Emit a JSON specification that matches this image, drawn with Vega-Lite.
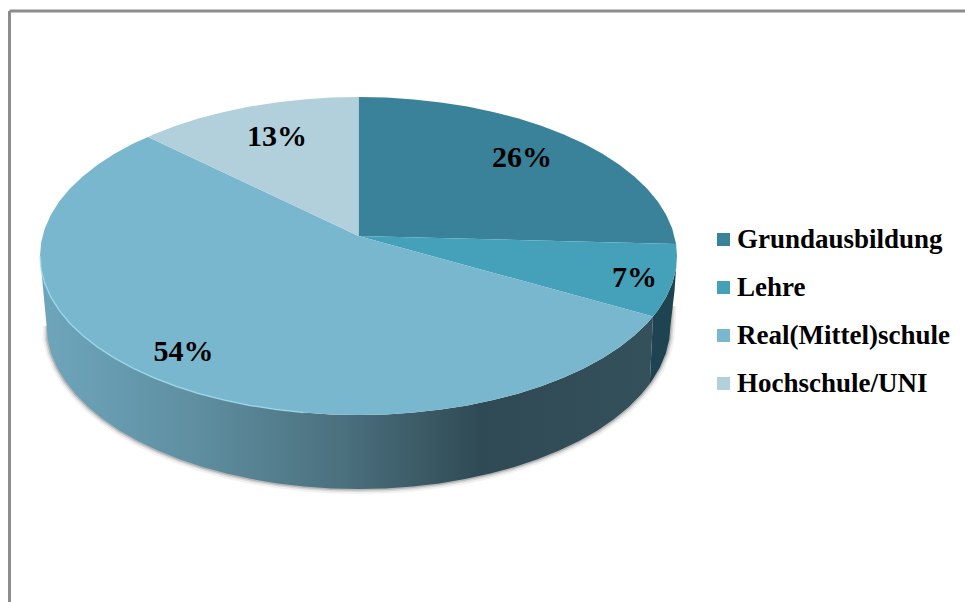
{"$schema":"https://vega.github.io/schema/vega-lite/v6.json","autosize":{"type":"fit","contains":"padding"},"width":965,"height":602,"padding":0,"background":"white","config":{"view":{"stroke":null}},
"datasets":{
"top":[
{"s":"Grundausbildung","x":0,"y":20},{"s":"Grundausbildung","x":0,"y":159},{"s":"Grundausbildung","x":27.8,"y":158.4},{"s":"Grundausbildung","x":55.3,"y":156.6},{"s":"Grundausbildung","x":82.4,"y":153.6},{"s":"Grundausbildung","x":108.9,"y":149.4},{"s":"Grundausbildung","x":134.6,"y":144.1},{"s":"Grundausbildung","x":159.3,"y":137.7},{"s":"Grundausbildung","x":182.7,"y":130.3},{"s":"Grundausbildung","x":204.7,"y":121.8},{"s":"Grundausbildung","x":225.2,"y":112.4},{"s":"Grundausbildung","x":244,"y":102.2},{"s":"Grundausbildung","x":260.9,"y":91.2},{"s":"Grundausbildung","x":275.8,"y":79.5},{"s":"Grundausbildung","x":288.7,"y":67.2},{"s":"Grundausbildung","x":299.3,"y":54.4},{"s":"Grundausbildung","x":307.6,"y":41.2},{"s":"Grundausbildung","x":313.7,"y":27.6},{"s":"Grundausbildung","x":317.6,"y":12},
{"s":"Lehre","x":0,"y":20},{"s":"Lehre","x":317.6,"y":12},{"s":"Lehre","x":318.5,"y":0},{"s":"Lehre","x":317.3,"y":-13.9},{"s":"Lehre","x":313.7,"y":-27.6},{"s":"Lehre","x":307.6,"y":-41.2},{"s":"Lehre","x":299.3,"y":-54.4},{"s":"Lehre","x":294.5,"y":-60.5},
{"s":"Real(Mittel)schule","x":0,"y":20},{"s":"Real(Mittel)schule","x":294.5,"y":-60.5},{"s":"Real(Mittel)schule","x":288.7,"y":-67.2},{"s":"Real(Mittel)schule","x":275.8,"y":-79.5},{"s":"Real(Mittel)schule","x":260.9,"y":-91.2},{"s":"Real(Mittel)schule","x":244,"y":-102.2},{"s":"Real(Mittel)schule","x":225.2,"y":-112.4},{"s":"Real(Mittel)schule","x":204.7,"y":-121.8},{"s":"Real(Mittel)schule","x":182.7,"y":-130.3},{"s":"Real(Mittel)schule","x":159.3,"y":-137.7},{"s":"Real(Mittel)schule","x":134.6,"y":-144.1},{"s":"Real(Mittel)schule","x":108.9,"y":-149.4},{"s":"Real(Mittel)schule","x":82.4,"y":-153.6},{"s":"Real(Mittel)schule","x":55.3,"y":-156.6},{"s":"Real(Mittel)schule","x":27.8,"y":-158.4},{"s":"Real(Mittel)schule","x":0,"y":-159},{"s":"Real(Mittel)schule","x":-27.8,"y":-158.4},{"s":"Real(Mittel)schule","x":-55.3,"y":-156.6},{"s":"Real(Mittel)schule","x":-82.4,"y":-153.6},{"s":"Real(Mittel)schule","x":-108.9,"y":-149.4},{"s":"Real(Mittel)schule","x":-134.6,"y":-144.1},{"s":"Real(Mittel)schule","x":-159.3,"y":-137.7},{"s":"Real(Mittel)schule","x":-182.7,"y":-130.3},{"s":"Real(Mittel)schule","x":-204.7,"y":-121.8},{"s":"Real(Mittel)schule","x":-225.2,"y":-112.4},{"s":"Real(Mittel)schule","x":-244,"y":-102.2},{"s":"Real(Mittel)schule","x":-260.9,"y":-91.2},{"s":"Real(Mittel)schule","x":-275.8,"y":-79.5},{"s":"Real(Mittel)schule","x":-288.7,"y":-67.2},{"s":"Real(Mittel)schule","x":-299.3,"y":-54.4},{"s":"Real(Mittel)schule","x":-307.6,"y":-41.2},{"s":"Real(Mittel)schule","x":-313.7,"y":-27.6},{"s":"Real(Mittel)schule","x":-317.3,"y":-13.9},{"s":"Real(Mittel)schule","x":-318.5,"y":0},{"s":"Real(Mittel)schule","x":-317.3,"y":13.9},{"s":"Real(Mittel)schule","x":-313.7,"y":27.6},{"s":"Real(Mittel)schule","x":-307.6,"y":41.2},{"s":"Real(Mittel)schule","x":-299.3,"y":54.4},{"s":"Real(Mittel)schule","x":-288.7,"y":67.2},{"s":"Real(Mittel)schule","x":-275.8,"y":79.5},{"s":"Real(Mittel)schule","x":-260.9,"y":91.2},{"s":"Real(Mittel)schule","x":-244,"y":102.2},{"s":"Real(Mittel)schule","x":-225.2,"y":112.4},{"s":"Real(Mittel)schule","x":-210.5,"y":119},
{"s":"Hochschule/UNI","x":0,"y":20},{"s":"Hochschule/UNI","x":-210.5,"y":119},{"s":"Hochschule/UNI","x":-204.7,"y":121.8},{"s":"Hochschule/UNI","x":-182.7,"y":130.3},{"s":"Hochschule/UNI","x":-159.3,"y":137.7},{"s":"Hochschule/UNI","x":-134.6,"y":144.1},{"s":"Hochschule/UNI","x":-108.9,"y":149.4},{"s":"Hochschule/UNI","x":-82.4,"y":153.6},{"s":"Hochschule/UNI","x":-55.3,"y":156.6},{"s":"Hochschule/UNI","x":-27.8,"y":158.4},{"s":"Hochschule/UNI","x":0,"y":159}
],
"rim":[{"x":-318.5,"y":0},{"x":-317.3,"y":-13.9},{"x":-313.7,"y":-27.6},{"x":-307.6,"y":-41.2},{"x":-299.3,"y":-54.4},{"x":-288.7,"y":-67.2},{"x":-275.8,"y":-79.5},{"x":-260.9,"y":-91.2},{"x":-244,"y":-102.2},{"x":-225.2,"y":-112.4},{"x":-204.7,"y":-121.8},{"x":-182.7,"y":-130.3},{"x":-159.3,"y":-137.7},{"x":-134.6,"y":-144.1},{"x":-108.9,"y":-149.4},{"x":-82.4,"y":-153.6},{"x":-55.3,"y":-156.6}],
"bottomEdge":[{"x":-310.8,"y":-70},{"x":-310.8,"y":-83.3},{"x":-307.3,"y":-97.5},{"x":-301.4,"y":-111.4},{"x":-293.2,"y":-125.1},{"x":-282.8,"y":-138.3},{"x":-270.2,"y":-151},{"x":-255.6,"y":-163.1},{"x":-239,"y":-174.4},{"x":-220.6,"y":-185},{"x":-200.6,"y":-194.6},{"x":-179,"y":-203.3},{"x":-156,"y":-211},{"x":-131.9,"y":-217.6},{"x":-106.7,"y":-223.1},{"x":-80.8,"y":-227.4},{"x":-54.2,"y":-230.5},{"x":-27.2,"y":-232.4},{"x":0,"y":-233},{"x":27.2,"y":-232.4},{"x":54.2,"y":-230.5},{"x":80.8,"y":-227.4},{"x":106.7,"y":-223.1},{"x":131.9,"y":-217.6},{"x":156,"y":-211},{"x":179,"y":-203.3},{"x":200.6,"y":-194.6},{"x":220.6,"y":-185},{"x":239,"y":-174.4},{"x":255.6,"y":-163.1},{"x":270.2,"y":-151},{"x":282.8,"y":-138.3},{"x":293.2,"y":-125.1},{"x":301.4,"y":-111.4},{"x":307.3,"y":-97.5},{"x":310.8,"y":-83.3},{"x":312,"y":-69},{"x":313,"y":-50}],
"sideFront":[{"x":-318.5,"y":0},{"x":-317.3,"y":-13.9},{"x":-313.7,"y":-27.6},{"x":-307.6,"y":-41.2},{"x":-299.3,"y":-54.4},{"x":-288.7,"y":-67.2},{"x":-275.8,"y":-79.5},{"x":-260.9,"y":-91.2},{"x":-244,"y":-102.2},{"x":-225.2,"y":-112.4},{"x":-204.7,"y":-121.8},{"x":-182.7,"y":-130.3},{"x":-159.3,"y":-137.7},{"x":-134.6,"y":-144.1},{"x":-108.9,"y":-149.4},{"x":-82.4,"y":-153.6},{"x":-55.3,"y":-156.6},{"x":-27.8,"y":-158.4},{"x":0,"y":-159},{"x":27.8,"y":-158.4},{"x":55.3,"y":-156.6},{"x":82.4,"y":-153.6},{"x":108.9,"y":-149.4},{"x":134.6,"y":-144.1},{"x":159.3,"y":-137.7},{"x":182.7,"y":-130.3},{"x":204.7,"y":-121.8},{"x":225.2,"y":-112.4},{"x":244,"y":-102.2},{"x":260.9,"y":-91.2},{"x":275.8,"y":-79.5},{"x":288.7,"y":-67.2},{"x":294.5,"y":-60.5},{"x":291.3,"y":-127.8},{"x":282.8,"y":-138.3},{"x":270.2,"y":-151},{"x":255.6,"y":-163.1},{"x":239,"y":-174.4},{"x":220.6,"y":-185},{"x":200.6,"y":-194.6},{"x":179,"y":-203.3},{"x":156,"y":-211},{"x":131.9,"y":-217.6},{"x":106.7,"y":-223.1},{"x":80.8,"y":-227.4},{"x":54.2,"y":-230.5},{"x":27.2,"y":-232.4},{"x":0,"y":-233},{"x":-27.2,"y":-232.4},{"x":-54.2,"y":-230.5},{"x":-80.8,"y":-227.4},{"x":-106.7,"y":-223.1},{"x":-131.9,"y":-217.6},{"x":-156,"y":-211},{"x":-179,"y":-203.3},{"x":-200.6,"y":-194.6},{"x":-220.6,"y":-185},{"x":-239,"y":-174.4},{"x":-255.6,"y":-163.1},{"x":-270.2,"y":-151},{"x":-282.8,"y":-138.3},{"x":-293.2,"y":-125.1},{"x":-301.4,"y":-111.4},{"x":-307.3,"y":-97.5},{"x":-310.8,"y":-83.3},{"x":-312,"y":-69}],
"sideRight":[{"x":294.5,"y":-60.5},{"x":299.3,"y":-54.4},{"x":307.6,"y":-41.2},{"x":313.7,"y":-27.6},{"x":317.3,"y":-13.9},{"x":318.5,"y":0},{"x":316,"y":-35},{"x":312,"y":-69},{"x":310.8,"y":-83.3},{"x":307.3,"y":-97.5},{"x":301.4,"y":-111.4},{"x":293.2,"y":-125.1},{"x":291.3,"y":-127.8}],
"labels":[{"t":"26%","x":163.5,"y":98},{"t":"7%","x":276,"y":-22},{"t":"54%","x":-175,"y":-96},{"t":"13%","x":-81.5,"y":119}],
"frameV":[{"x":-349,"y":245,"y2":-346}],
"frameH":[{"x":-349,"x2":606.5,"y":245}]
},
"encoding":{
"x":{"field":"x","type":"quantitative","axis":null,"scale":{"domain":[-358.5,606.5],"nice":false,"zero":false}},
"y":{"field":"y","type":"quantitative","axis":null,"scale":{"domain":[-346,256],"nice":false,"zero":false}}
},
"layer":[
{"data":{"name":"frameV"},"mark":{"type":"rule","stroke":"#8c8c8c","strokeWidth":3,"clip":true},"encoding":{"y2":{"field":"y2"}}},
{"data":{"name":"frameH"},"mark":{"type":"rule","stroke":"#8c8c8c","strokeWidth":3,"clip":true},"encoding":{"x2":{"field":"x2"}}},
{"data":{"name":"bottomEdge"},"mark":{"type":"line","order":false,"stroke":"#777777","strokeWidth":10,"opacity":0.1},"encoding":{}},
{"data":{"name":"bottomEdge"},"mark":{"type":"line","order":false,"stroke":"#777777","strokeWidth":6,"opacity":0.2},"encoding":{}},
{"data":{"name":"bottomEdge"},"mark":{"type":"line","order":false,"stroke":"#666666","strokeWidth":3,"opacity":0.3},"encoding":{}},
{"data":{"name":"sideFront"},"mark":{"type":"line","order":false,"filled":true,"strokeWidth":0,"fill":{"gradient":"linear","x1":0,"x2":1,"y1":0,"y2":0,"stops":[{"offset":0,"color":"#6ea6bc"},{"offset":0.25,"color":"#5f8fa1"},{"offset":0.5,"color":"#4a6f7d"},{"offset":0.72,"color":"#2f4a54"},{"offset":1,"color":"#34505a"}]}},"encoding":{}},
{"data":{"name":"sideRight"},"mark":{"type":"line","order":false,"filled":true,"strokeWidth":0,"fill":"#1e4451"},"encoding":{}},
{"data":{"name":"top"},"mark":{"type":"line","order":false,"filled":true,"strokeWidth":0},"encoding":{"fill":{"field":"s","type":"nominal","scale":{"domain":["Grundausbildung","Lehre","Real(Mittel)schule","Hochschule/UNI"],"range":["#3a8299","#45a0ba","#79b7cf","#b2cfdc"]},"legend":{"title":null,"orient":"none","legendX":710,"legendY":226,"symbolType":"square","symbolSize":169,"symbolStrokeWidth":0,"labelFont":"Liberation Serif","labelFontWeight":"bold","labelFontSize":27,"labelColor":"#000000","labelLimit":300,"labelOffset":0,"rowPadding":20,"padding":0}}}},
{"data":{"name":"rim"},"mark":{"type":"line","order":false,"stroke":"#a3e0f2","strokeWidth":1.5,"opacity":0.7},"encoding":{}},
{"data":{"name":"labels"},"mark":{"type":"text","font":"Liberation Serif","fontWeight":"bold","fontSize":30,"color":"#000000","align":"center","baseline":"middle"},"encoding":{"text":{"field":"t","type":"nominal"}}}
]}
